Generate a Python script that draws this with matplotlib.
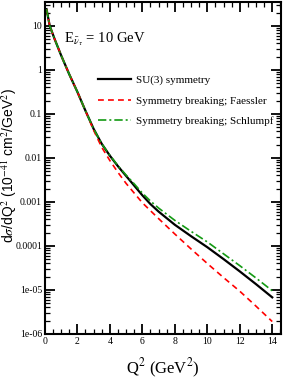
import numpy as np
import matplotlib.pyplot as plt
from matplotlib.ticker import LogLocator, MultipleLocator, NullFormatter

# Q^2 grid (GeV^2) and log10 of dsigma/dQ^2
q2 = [0.1, 0.3, 0.6, 1.0, 1.5, 2.0, 2.5, 3.0, 3.5, 4.0, 4.5, 5.0, 5.5, 6.0,
      6.5, 7.0, 8.0, 9.0, 10.0, 11.0, 12.0, 13.0, 14.0]
log_su3 = [1.38, 1.0, 0.7, 0.33, -0.10, -0.50, -0.93, -1.34, -1.68, -1.95,
           -2.19, -2.41, -2.63, -2.85, -3.05, -3.22, -3.52, -3.78, -4.03,
           -4.30, -4.58, -4.87, -5.17]
log_faessler = [1.38, 1.0, 0.7, 0.33, -0.10, -0.50, -0.93, -1.37, -1.76,
                -2.06, -2.33, -2.58, -2.80, -3.02, -3.20, -3.38, -3.73, -4.07,
                -4.40, -4.72, -5.03, -5.37, -5.72]
log_schlumpf = [1.38, 1.0, 0.7, 0.33, -0.10, -0.50, -0.93, -1.34, -1.68,
                -1.94, -2.18, -2.39, -2.59, -2.80, -2.98, -3.14, -3.42, -3.67,
                -3.91, -4.18, -4.45, -4.73, -5.02]

su3 = 10.0 ** np.array(log_su3)
faessler = 10.0 ** np.array(log_faessler)
schlumpf = 10.0 ** np.array(log_schlumpf)

plt.rcParams['font.family'] = ['Liberation Serif', 'DejaVu Serif']
plt.rcParams['mathtext.fontset'] = 'stix'

fig = plt.figure(figsize=(2.84, 3.82), dpi=100)
ax = fig.add_axes([0.158, 0.126, 0.832, 0.869])

ax.plot(q2, su3, color='black', lw=1.6, label='SU(3) symmetry')
ax.plot(q2, faessler, color='red', lw=1.2, ls=(0, (3.5, 2.5)),
        label='Symmetry breaking; Faessler')
ax.plot(q2, schlumpf, color='#139a13', lw=1.2, ls=(0, (5, 1.8, 1.2, 1.8)),
        label='Symmetry breaking; Schlumpf')

ax.set_yscale('log')
ax.set_xlim(0, 14.55)
ax.set_ylim(1e-6, 35)

ax.xaxis.set_major_locator(MultipleLocator(2))
ax.xaxis.set_minor_locator(MultipleLocator(0.5))
ax.yaxis.set_minor_locator(LogLocator(base=10, subs=np.arange(2, 10), numticks=20))
ax.yaxis.set_minor_formatter(NullFormatter())
ylabels = {1e-6: '1e-06', 1e-5: '1e-05', 1e-4: '0.0001', 1e-3: '0.001',
           1e-2: '0.01', 1e-1: '0.1', 1: '1', 10: '10'}
ax.set_yticks(list(ylabels.keys()))
ax.set_yticklabels(list(ylabels.values()))

ax.tick_params(which='both', direction='in', top=True, right=True,
               labelsize=7, pad=2)
ax.tick_params(which='major', length=7, width=1.3)
ax.tick_params(which='minor', length=3.5, width=0.9)
for s in ax.spines.values():
    s.set_linewidth(1.5)

ax.set_xlabel(r'Q$^2$ (GeV$^2$)', fontsize=12)
ax.xaxis.set_label_coords(0.5, -0.07)
ax.set_ylabel(r'd$\sigma$/dQ$^2$ (10$^{-41}$ cm$^2$/GeV$^2$)', fontsize=10,
              family=['Liberation Sans', 'DejaVu Sans'])
ax.yaxis.set_label_coords(-0.11, 0.508)

ax.text(1.2, 4.3, r'E$_{\bar{\nu}_{\tau}}$ = 10 GeV', fontsize=10.5,
        va='baseline')

ax.legend(loc='upper left', bbox_to_anchor=(0.225, 0.78), frameon=False,
          fontsize=8, handlelength=3.0, handletextpad=0.4, labelspacing=0.98,
          borderpad=0, borderaxespad=0)

fig.savefig('out.png', dpi=100)
